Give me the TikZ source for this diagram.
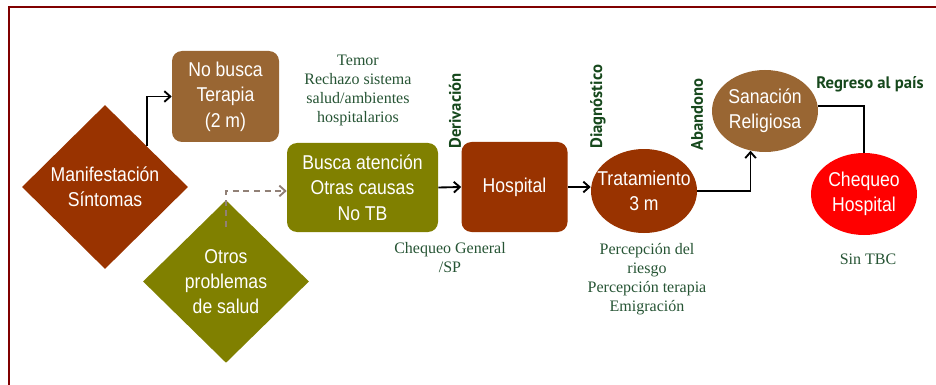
\documentclass[tikz,border=0pt]{standalone}
\usepackage{fontspec}
\setmainfont{Liberation Serif}
\newfontfamily\shapefont[FakeStretch=0.88]{Liberation Sans}
\newfontfamily\tagfont{PT Sans}
\usepackage{xcolor}
\usetikzlibrary{shapes.geometric,arrows.meta}

\definecolor{rust}{RGB}{153,51,0}
\definecolor{tanbrown}{RGB}{153,102,51}
\definecolor{olivegreen}{RGB}{128,128,0}
\definecolor{notegreen}{RGB}{38,84,52}
\definecolor{taggreen}{RGB}{22,72,28}
\definecolor{framered}{RGB}{128,0,0}
\definecolor{dashgrey}{RGB}{145,128,118}

\begin{document}
\begin{tikzpicture}[x=0.75pt,y=0.75pt,yscale=-1,xscale=1,
  shapetext/.style={text=white,font=\shapefont\fontsize{15}{19}\selectfont,align=center,inner sep=0pt},
  rbox/.style={shapetext,rectangle,rounded corners=7.5pt},
  dmnd/.style={shapetext,diamond,minimum width=124.5pt,minimum height=123pt},
  oval/.style={ellipse,inner sep=0pt,minimum width=79.5pt,minimum height=62pt},
  note/.style={text=notegreen,font=\fontsize{12}{14.25}\selectfont,align=center,inner sep=0pt},
  tag/.style={text=taggreen,font=\tagfont\bfseries\fontsize{12.5}{14}\selectfont,inner sep=0pt},
  arr/.style={draw,line width=1.4pt,-{Straight Barb[length=4.5pt,width=8pt]}}]
\useasboundingbox (0,0) rectangle (936,385);

%Frame
\draw [framered, line width=1.2pt] (9,385) -- (9,7) -- (936,7) ;

%Shape: Diamond
\node (mani) [dmnd,fill=rust] at (105,187) {Manifestación\\Síntomas};
%Shape: Diamond
\node (otros) [dmnd,fill=olivegreen,minimum height=122pt] at (226,281.5) {Otros\\problemas\\de salud};
%Rounded Rect
\node (nobusca) [rbox,fill=tanbrown,minimum width=80.25pt,minimum height=68.25pt] at (225.5,96.5) {No busca\\Terapia\\(2 m)};
%Rounded Rect
\node (busca) [rbox,fill=olivegreen,minimum width=113.25pt,minimum height=66.75pt] at (362.5,187.5) {Busca atención\\Otras causas\\No TB};
%Rounded Rect
\node (hosp) [rbox,fill=rust,minimum width=79.5pt,minimum height=67.5pt] at (514.5,187) {Hospital};
%Shape: Ellipse
\node (trat) [oval,fill=rust,minimum height=63pt,label={[shapetext]center:Tratamiento\\3 m}] at (644,191) {};
%Shape: Ellipse
\node (sana) [oval,fill=tanbrown,minimum height=61.5pt,label={[shapetext]center:Sanación\\Religiosa}] at (765,111) {};
%Shape: Ellipse
\node (cheq) [oval,fill=red,minimum height=61.5pt,label={[shapetext]center:Chequeo\\Hospital}] at (864,194) {};

%Straight Lines
\draw [arr] (mani.north east) |- (nobusca.west) ;
%Straight Lines
\coordinate (dashstart) at (226,227) ;
\draw [arr,dashgrey,line width=1.4pt,dash pattern=on 4.5pt off 3.5pt] (dashstart) |- ([yshift=2.6pt]busca.west) ;
%Straight Lines
\draw [arr] (busca.east) -- (hosp.west) ;
%Straight Lines
\draw [arr] (hosp.east) -- (hosp.east -| trat.west) ;
%Straight Lines
\draw [arr] (trat.east) -| (sana.250) ;
%Straight Lines
\draw [line width=1.4pt] (sana.5) -| (cheq.north) ;

% Text Node
\node (temor) [note] at (358,90.5) {Temor\\Rechazo sistema\\salud/ambientes\\hospitalarios};
% Text Node
\node (chgen) [note] at (450,257.5) {Chequeo General\\/SP};
% Text Node
\node (percep) [note] at (647,279.5) {Percepción del\\riesgo\\Percepción terapia\\Emigración};
% Text Node
\node (sintbc) [note] at (868,259) {Sin TBC};
% Text Node
\node (regreso) [tag] at (870,84) {Regreso al país};
% Text Node
\node (deriv) [tag,rotate=90,anchor=west] at (455,149) {Derivación};
% Text Node
\node (diag) [tag,rotate=90,anchor=west] at (598,149) {Diagnóstico};
% Text Node
\node (aband) [tag,rotate=90,anchor=west] at (697,151) {Abandono};

\end{tikzpicture}
\end{document}
